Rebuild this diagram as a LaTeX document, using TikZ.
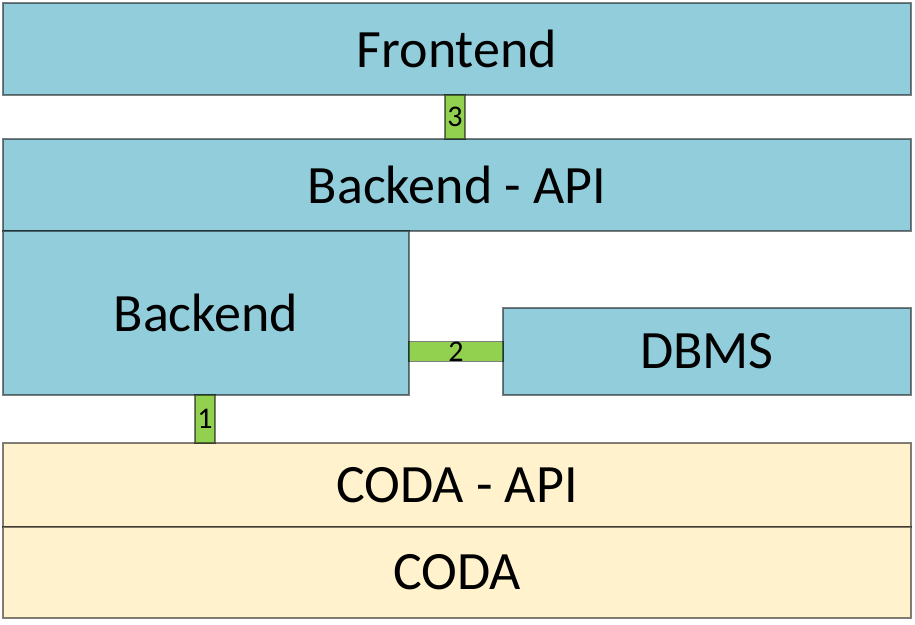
\documentclass[tikz,border=0pt]{standalone}
\usepackage{fontspec}
\setmainfont{Carlito}
\usetikzlibrary{positioning}
\definecolor{layerblue}{HTML}{92CDDC}
\definecolor{layercream}{HTML}{FFF2CC}
\definecolor{linkgreen}{HTML}{92D050}
\tikzset{
    layer/.style={rectangle,draw=black,draw opacity=0.5,line width=1.3pt,fill=layerblue,
        inner sep=0pt,outer sep=0pt,font=\fontsize{54}{56}\selectfont},
    codalayer/.style={layer,fill=layercream},
    link/.style={rectangle,draw=black,draw opacity=0.5,line width=1.3pt,fill=linkgreen,
        inner sep=0pt,outer sep=0pt,font=\fontsize{30}{31}\selectfont}
}
\begin{document}
\begin{tikzpicture}[x=1pt,y=-1pt]
    \useasboundingbox (0,0) rectangle (915,624);
    \node[layer,minimum width=908pt,minimum height=92pt] (frontend) at (457,49) {Frontend};
    \node[layer,minimum width=908pt,minimum height=92pt] (api) at (457,185) {Backend - API};
    \node[layer,minimum width=406pt,minimum height=164pt] (backend) at (206,313) {Backend};
    \node[layer,minimum width=408pt,minimum height=87pt] (dbms) at (707,351.5) {DBMS};
    \node[codalayer,minimum width=908pt,minimum height=84pt] (codaapi) at (457,485) {CODA - API};
    \node[codalayer,minimum width=908pt,minimum height=91pt] (coda) at (457,572.5) {CODA};

    % links between the layers
    \node[link,minimum width=20pt,minimum height=44pt] (link3) at (455,117) {3};
    \node[link,minimum width=94pt,minimum height=19pt] (link2) at (456,351.5) {2};
    \node[link,minimum width=20pt,minimum height=48pt] (link1) at (205,419) {1};
\end{tikzpicture}
\end{document}
